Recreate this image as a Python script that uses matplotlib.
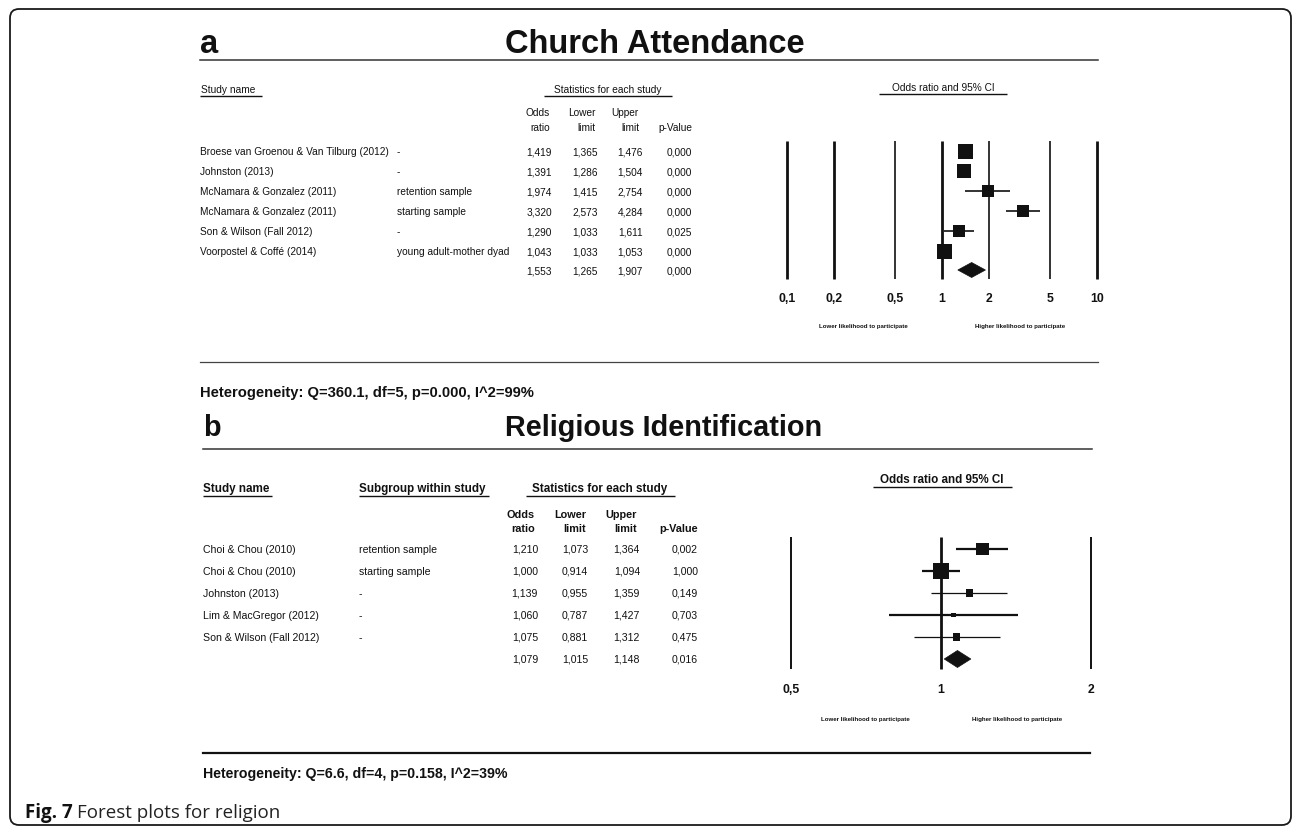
import matplotlib.pyplot as plt
from matplotlib import font_manager
from matplotlib.patches import FancyBboxPatch, Polygon

# ---- panel a: church attendance ----
a_names = ["Broese van Groenou & Van Tilburg (2012)", "Johnston (2013)",
           "McNamara & Gonzalez (2011)", "McNamara & Gonzalez (2011)",
           "Son & Wilson (Fall 2012)", "Voorpostel & Coffé (2014)"]
a_sub = ["-", "-", "retention sample", "starting sample", "-", "young adult-mother dyad"]
a_or = [1.419, 1.391, 1.974, 3.320, 1.290, 1.043]
a_lo = [1.365, 1.286, 1.415, 2.573, 1.033, 1.033]
a_hi = [1.476, 1.504, 2.754, 4.284, 1.611, 1.053]
a_p = [0.000, 0.000, 0.000, 0.000, 0.025, 0.000]
a_pool = [1.553, 1.265, 1.907, 0.000]
a_box = [15, 14.5, 12, 12.5, 12, 15]          # square side (px), study weight
a_ticks = [0.1, 0.2, 0.5, 1, 2, 5, 10]
a_tlabels = ["0,1", "0,2", "0,5", "1", "2", "5", "10"]
a_het = "Heterogeneity: Q=360.1, df=5, p=0.000, I^2=99%"

# ---- panel b: religious identification ----
b_names = ["Choi & Chou (2010)", "Choi & Chou (2010)", "Johnston (2013)",
           "Lim & MacGregor (2012)", "Son & Wilson (Fall 2012)"]
b_sub = ["retention sample", "starting sample", "-", "-", "-"]
b_or = [1.210, 1.000, 1.139, 1.060, 1.075]
b_lo = [1.073, 0.914, 0.955, 0.787, 0.881]
b_hi = [1.364, 1.094, 1.359, 1.427, 1.312]
b_p = [0.002, 1.000, 0.149, 0.703, 0.475]
b_pool = [1.079, 1.015, 1.148, 0.016]
b_box = [12.7, 16.5, 7.3, 4.3, 7.3]
b_ticks = [0.5, 1, 2]
b_tlabels = ["0,5", "1", "2"]
b_het = "Heterogeneity: Q=6.6, df=4, p=0.158, I^2=39%"

W, H = 1292, 829
names = {f.name for f in font_manager.fontManager.ttflist}
if "Liberation Sans Narrow" in names:
    NARROW, NS = "Liberation Sans Narrow", 8.7
else:
    NARROW, NS = "Liberation Sans", 7.3
SANS = "Liberation Sans"
INK = "#111111"


def fmt(v):
    return f"{v:.3f}".replace(".", ",")


fig = plt.figure(figsize=(W / 100, H / 100), dpi=100)
bg = fig.add_axes([0, 0, 1, 1])
bg.set_xlim(0, W)
bg.set_ylim(H, 0)
bg.axis("off")

bg.add_patch(FancyBboxPatch((10, 10), 1281, 816, boxstyle="round,pad=0,rounding_size=9",
                            fc="none", ec="#1a1a1a", lw=1.3))


def forest_axes(x0, x1, y0, y1, lim):
    ax = fig.add_axes([x0 / W, 1 - y1 / H, (x1 - x0) / W, (y1 - y0) / H])
    ax.set_xscale("log")
    ax.set_xlim(*lim)
    ax.set_ylim(y1, y0)
    ax.axis("off")
    return ax


def uline(x0, x1, y, lw=1.0):
    bg.plot([x0, x1], [y, y], color=INK, lw=lw, solid_capstyle="butt")


# ================= panel a =================
bg.text(200, 53, "a", family=SANS, weight="bold", fontsize=23.5, va="baseline", color=INK)
bg.text(505, 53, "Church Attendance", family=SANS, weight="bold", fontsize=23.5,
        va="baseline", color=INK)
bg.plot([200, 1098], [61, 61], color="#333333", lw=1.1)

bg.text(201, 90, "Study name", family=NARROW, fontsize=NS, va="center", color=INK)
uline(200, 262, 97)
bg.text(608, 90, "Statistics for each study", family=NARROW, fontsize=NS, va="center",
        ha="center", color=INK)
uline(544, 672, 97)
bg.text(943, 88, "Odds ratio and 95% CI", family=NARROW, fontsize=NS, va="center",
        ha="center", color=INK)
uline(879, 1007, 95)

for x, top, bot in [(550, "Odds", "ratio"), (596, "Lower", "limit"), (639, "Upper", "limit"),
                    (692, "", "p-Value")]:
    bg.text(x, 113, top, family=NARROW, fontsize=NS, va="center", ha="right", color=INK)
    bg.text(x, 128, bot, family=NARROW, fontsize=NS, va="center", ha="right", color=INK)

a_y = [152 + 20 * i for i in range(len(a_names))]
a_ypool = 271
for i, y in enumerate(a_y):
    bg.text(200, y, a_names[i], family=NARROW, fontsize=NS, va="center", color=INK)
    bg.text(397, y, a_sub[i], family=NARROW, fontsize=NS, va="center", color=INK)
    for x, v in zip([552, 598, 643, 692], [a_or[i], a_lo[i], a_hi[i], a_p[i]]):
        bg.text(x, y, fmt(v), family=NARROW, fontsize=NS, va="center", ha="right", color=INK)
for x, v in zip([552, 598, 643, 692], a_pool):
    bg.text(x, a_ypool, fmt(v), family=NARROW, fontsize=NS, va="center", ha="right", color=INK)

axa = forest_axes(787, 1097, 130, 340, (0.1, 10))
for t in a_ticks:
    lw = 2.0 if t in (0.1, 0.2, 1, 10) else 1.2
    axa.vlines(t, 142, 280, color=INK, lw=lw, clip_on=False)
for t, lab in zip(a_ticks, a_tlabels):
    axa.text(t, 299, lab, family=SANS, weight="bold", fontsize=8.8, ha="center",
             va="center", color=INK)
axa.hlines(a_y, a_lo, a_hi, color=INK, lw=1.2, clip_on=False)
axa.scatter(a_or, a_y, marker="s", s=[(b * 0.72) ** 2 for b in a_box], c=INK,
            linewidths=0, zorder=3, clip_on=False)
est, lo, hi, _ = a_pool
axa.add_patch(Polygon([(lo, a_ypool), (est, a_ypool - 7.5), (hi, a_ypool), (est, a_ypool + 7.5)],
                      closed=True, fc=INK, ec=INK, lw=0.5, zorder=3))
axa.text(0.31, 327, "Lower likelihood to participate", family=SANS, weight="bold",
         fontsize=4.4, ha="center", va="center", color=INK)
axa.text(3.19, 327, "Higher likelihood to participate", family=SANS, weight="bold",
         fontsize=4.4, ha="center", va="center", color=INK)

bg.plot([200, 1098], [363, 363], color="#444444", lw=0.9)
bg.text(200, 393, a_het, family=SANS, weight="bold", fontsize=10.6, va="center", color=INK)

# ================= panel b =================
bg.text(203, 436, "b", family=SANS, weight="bold", fontsize=20.8, va="baseline", color=INK)
bg.text(505, 436, "Religious Identification", family=SANS, weight="bold", fontsize=20.8,
        va="baseline", color=INK)
bg.plot([203, 1092], [450, 450], color="#333333", lw=1.1)

bg.text(203, 489, "Study name", family=SANS, weight="bold", fontsize=8.4, va="center", color=INK)
uline(203, 272, 497)
bg.text(359, 489, "Subgroup within study", family=SANS, weight="bold", fontsize=8.4,
        va="center", color=INK)
uline(359, 489, 497)
bg.text(600, 489, "Statistics for each study", family=SANS, weight="bold", fontsize=8.4,
        va="center", ha="center", color=INK)
uline(526, 675, 497)
bg.text(942, 480, "Odds ratio and 95% CI", family=SANS, weight="bold", fontsize=8.4,
        va="center", ha="center", color=INK)
uline(873, 1012, 488)

for x, top, bot in [(535, "Odds", "ratio"), (586, "Lower", "limit"), (637, "Upper", "limit"),
                    (698, "", "p-Value")]:
    bg.text(x, 515, top, family=SANS, weight="bold", fontsize=7.8, va="center", ha="right", color=INK)
    bg.text(x, 529, bot, family=SANS, weight="bold", fontsize=7.8, va="center", ha="right", color=INK)

b_y = [550 + 22 * i for i in range(len(b_names))]
b_ypool = 660
for i, y in enumerate(b_y):
    bg.text(203, y, b_names[i], family=SANS, fontsize=7.6, va="center", color=INK)
    bg.text(359, y, b_sub[i], family=SANS, fontsize=7.6, va="center", color=INK)
    for x, v in zip([538, 588, 640, 698], [b_or[i], b_lo[i], b_hi[i], b_p[i]]):
        bg.text(x, y, fmt(v), family=SANS, fontsize=7.6, va="center", ha="right", color=INK)
for x, v in zip([538, 588, 640, 698], b_pool):
    bg.text(x, b_ypool, fmt(v), family=SANS, fontsize=7.6, va="center", ha="right", color=INK)

axb = forest_axes(791, 1091, 530, 735, (0.5, 2))
for t in b_ticks:
    axb.vlines(t, 538, 670, color=INK, lw=2.0 if t == 1 else 1.4, clip_on=False)
for t, lab in zip(b_ticks, b_tlabels):
    axb.text(t, 690, lab, family=SANS, weight="bold", fontsize=8.8, ha="center",
             va="center", color=INK)
axb.hlines(b_y, b_lo, b_hi, color=INK, lw=[1.6, 1.6, 0.9, 1.6, 0.9], clip_on=False)
axb.scatter(b_or, b_y, marker="s", s=[(b * 0.72) ** 2 for b in b_box], c=INK,
            linewidths=0, zorder=3, clip_on=False)
est, lo, hi, _ = b_pool
axb.add_patch(Polygon([(lo, b_ypool), (est, b_ypool - 8.5), (hi, b_ypool), (est, b_ypool + 8.5)],
                      closed=True, fc=INK, ec=INK, lw=0.5, zorder=3))
axb.text(0.705, 720, "Lower likelihood to participate", family=SANS, weight="bold",
         fontsize=4.4, ha="center", va="center", color=INK)
axb.text(1.42, 720, "Higher likelihood to participate", family=SANS, weight="bold",
         fontsize=4.4, ha="center", va="center", color=INK)

bg.plot([203, 1090], [754, 754], color=INK, lw=1.6)
bg.text(203, 774, b_het, family=SANS, weight="bold", fontsize=10.2, va="center", color=INK)

# ---- caption ----
cap = bg.text(25, 813, "Fig. 7", family="Open Sans", weight="bold", fontsize=13.5,
              va="center", color=INK)
r = fig.canvas.get_renderer()
ext = cap.get_window_extent(r)
bg.text(25 + ext.width + 4, 813, "Forest plots for religion", family="Open Sans",
        fontsize=13.5, va="center", color="#222222")

fig.savefig("out.png", dpi=100)
